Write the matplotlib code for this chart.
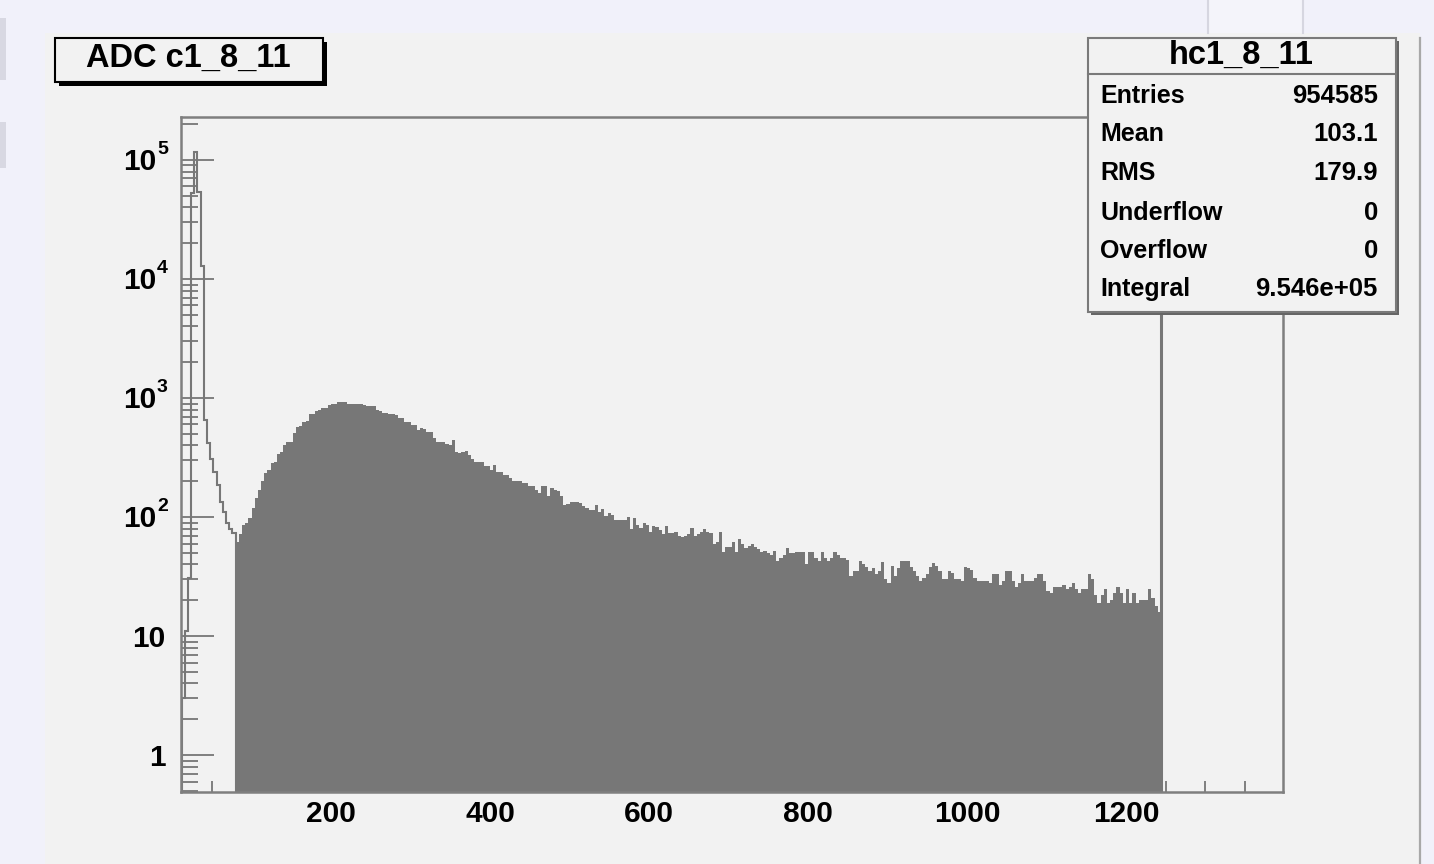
import numpy as np
import matplotlib
matplotlib.use("Agg")
import matplotlib.pyplot as plt
from matplotlib.patches import Rectangle
from matplotlib.lines import Line2D
from matplotlib.ticker import FixedLocator, FixedFormatter, LogLocator, MultipleLocator, NullFormatter

plt.rcParams['font.family'] = ['Liberation Sans', 'DejaVu Sans']
plt.rcParams['font.weight'] = 'bold'

# ---- data (4 ADC counts per bin) ----
bin_width = 4
peak_start = 12
peak_counts = [3, 11, 31, 53000, 117000, 54000, 13000, 650, 420, 305,
               240, 186, 134, 110, 89, 80, 73]

body_start = 80
body_counts = [
    62, 72, 86, 90, 98, 120, 144, 170, 200, 235,
    250, 285, 290, 340, 350, 400, 425, 430, 505, 570,
    580, 625, 640, 730, 740, 780, 790, 820, 830, 880,
    890, 895, 925, 935, 930, 900, 895, 890, 885, 890,
    880, 860, 855, 850, 790, 775, 750, 745, 735, 730,
    720, 680, 675, 635, 625, 595, 590, 540, 560, 555,
    520, 515, 465, 430, 425, 430, 410, 400, 445, 350,
    348, 355, 360, 330, 307, 292, 290, 288, 268, 268,
    248, 274, 240, 240, 225, 225, 215, 200, 200, 200,
    192, 195, 182, 182, 170, 159, 182, 182, 150, 175,
    170, 166, 150, 126, 130, 134, 134, 134, 131, 124,
    120, 115, 115, 126, 110, 118, 102, 108, 105, 94,
    94, 94, 94, 100, 79, 98, 85, 81, 89, 85,
    75, 84, 82, 78, 72, 84, 74, 74, 75, 70,
    68, 70, 72, 81, 70, 72, 75, 79, 75, 73,
    59, 62, 75, 51, 56, 56, 62, 51, 65, 60,
    55, 57, 60, 56, 54, 51, 52, 50, 48, 52,
    43, 45, 48, 55, 50, 50, 51, 51, 51, 40,
    51, 51, 45, 43, 51, 45, 43, 45, 51, 48,
    45, 45, 44, 32, 35, 35, 43, 40, 38, 35,
    37, 33, 35, 42, 30, 28, 39, 32, 37, 43,
    43, 43, 38, 35, 32, 29, 31, 33, 38, 41,
    39, 35, 30, 30, 35, 34, 30, 30, 29, 38,
    37, 36, 31, 29, 29, 29, 29, 28, 33, 33,
    27, 29, 35, 35, 29, 26, 28, 33, 29, 29,
    29, 31, 33, 33, 29, 24, 23, 26, 26, 26,
    27, 25, 26, 28, 25, 23, 25, 25, 33, 30,
    22, 19, 22, 25, 19, 20, 23, 26, 23, 19,
    25, 19, 23, 19, 20, 20, 20, 25, 21, 18,
    16,
]

x_ticks = [200, 400, 600, 800, 1000, 1200]
y_ticks = [1, 10, 100, 1000, 10000, 100000]
y_labels = ['1', '10', '', '', '', '']
y_exp_ticks = [100, 1000, 10000, 100000]
y_exps = ['2', '3', '4', '5']

stat_names = ['Entries', 'Mean', 'RMS', 'Underflow', 'Overflow', 'Integral']
stat_values = ['954585', '103.1', '179.9', '0', '0', '9.546e+05']

W, H = 1434, 864
fig = plt.figure(figsize=(W / 100, H / 100), dpi=100)
fig.patch.set_facecolor('#f1f1fa')


def fx(px):
    return px / W


def fy(py):
    return 1 - py / H


# canvas pad and window decorations (behind the axes)
fig.patches.append(Rectangle((fx(45), fy(864)), fx(1375), 831 / H,
                             transform=fig.transFigure, facecolor='#f2f2f2',
                             edgecolor='none', zorder=-2))
fig.add_artist(Line2D([fx(1420), fx(1420)], [fy(38), fy(864)], color='#a8a8a8', lw=1.6, zorder=-1))
fig.patches.append(Rectangle((fx(1208), fy(33)), fx(95), 33 / H, transform=fig.transFigure,
                             facecolor='#f4f4fa', edgecolor='none', zorder=-2))
for xx in (1208, 1303):
    fig.add_artist(Line2D([fx(xx), fx(xx)], [fy(0), fy(33)], color='#d6d6e0', lw=1.5, zorder=-1))
for y0, y1 in ((18, 80), (122, 168)):
    fig.patches.append(Rectangle((0, fy(y1)), fx(6), (y1 - y0) / H, transform=fig.transFigure,
                                 facecolor='#d8d8e2', edgecolor='none', zorder=-1))

ax = fig.add_axes([fx(181), fy(792), fx(1283 - 181), (792 - 117) / H])
ax.set_facecolor('#f2f2f2')
ax.set_yscale('log')
ax.set_xlim(11.3, 1397.5)
ax.set_ylim(0.49, 2.3e5)

gray = '#777777'
peak_edges = peak_start + bin_width * np.arange(len(peak_counts) + 1)
body_edges = body_start + bin_width * np.arange(len(body_counts) + 1)
ax.stairs(body_counts, body_edges, baseline=0.3, fill=True, color=gray, zorder=2)
ax.stairs(peak_counts, peak_edges, baseline=0.3, fill=False, color=gray, lw=1.5, zorder=3)
ax.axvline(body_edges[-1], color=gray, lw=2.2, zorder=3)

ax.set_axisbelow(True)
for s in ax.spines.values():
    s.set_color('#7f7f7f')
    s.set_linewidth(1.8)
    s.set_zorder(4)

ax.xaxis.set_major_locator(FixedLocator(x_ticks))
ax.xaxis.set_minor_locator(MultipleLocator(50))
ax.yaxis.set_major_locator(FixedLocator(y_ticks))
ax.yaxis.set_major_formatter(FixedFormatter(y_labels))
ax.yaxis.set_minor_locator(LogLocator(base=10, subs=np.arange(2, 10)))
ax.yaxis.set_minor_formatter(NullFormatter())
ax.tick_params(axis='both', which='both', direction='in', color='#7f7f7f', width=1.4,
               labelsize=21.5, labelcolor='black')
ax.tick_params(axis='y', which='major', length=24, pad=11)
ax.tick_params(axis='y', which='minor', length=12)
ax.tick_params(axis='x', which='major', length=16, pad=6)
ax.tick_params(axis='x', which='minor', length=8)
ax.tick_params(top=False, right=False)
for lab in ax.get_xticklabels() + ax.get_yticklabels():
    lab.set_fontweight('bold')

# ROOT-style power labels: "10" with a small raised exponent
ytr = ax.get_yaxis_transform()
for val, e in zip(y_exp_ticks, y_exps):
    ax.text((156 - 181) / 1102, val * 0.96, '10', transform=ytr, ha='right', va='center',
            fontsize=21.5, fontweight='bold', clip_on=False)
    ax.text((157 - 181) / 1102, val * 1.04, e, transform=ytr, ha='left', va='bottom',
            fontsize=14, fontweight='bold', clip_on=False)

# title box with shadow
fig.patches.append(Rectangle((fx(59), fy(86)), fx(268), 44 / H, transform=fig.transFigure,
                             facecolor='black', edgecolor='none', zorder=5))
fig.patches.append(Rectangle((fx(55), fy(82)), fx(268), 44 / H, transform=fig.transFigure,
                             facecolor='#f2f2f2', edgecolor='black', lw=1.5, zorder=6))
fig.text(fx(188), fy(58), 'ADC c1_8_11', ha='center', va='center', fontsize=23.5,
         fontweight='bold', zorder=7)

# stats box with shadow
fig.patches.append(Rectangle((fx(1091), fy(315)), fx(308), 274 / H, transform=fig.transFigure,
                             facecolor='#666666', edgecolor='none', zorder=5))
fig.patches.append(Rectangle((fx(1088), fy(312)), fx(308), 274 / H, transform=fig.transFigure,
                             facecolor='#f2f2f2', edgecolor='#7a7a7a', lw=1.5, zorder=6))
fig.add_artist(Line2D([fx(1088), fx(1396)], [fy(74), fy(74)], color='#7a7a7a', lw=1.5, zorder=7))
fig.text(fx(1241), fy(55), 'hc1_8_11', ha='center', va='center', fontsize=23.5,
         fontweight='bold', zorder=7)
row_y = [96, 134, 173, 213, 251, 289]
for name, val, yy in zip(stat_names, stat_values, row_y):
    fig.text(fx(1100), fy(yy), name, ha='left', va='center', fontsize=18, fontweight='bold', zorder=7)
    fig.text(fx(1378), fy(yy), val, ha='right', va='center', fontsize=18.5, fontweight='bold', zorder=7)

fig.savefig('out.png', dpi=100, facecolor=fig.get_facecolor())
